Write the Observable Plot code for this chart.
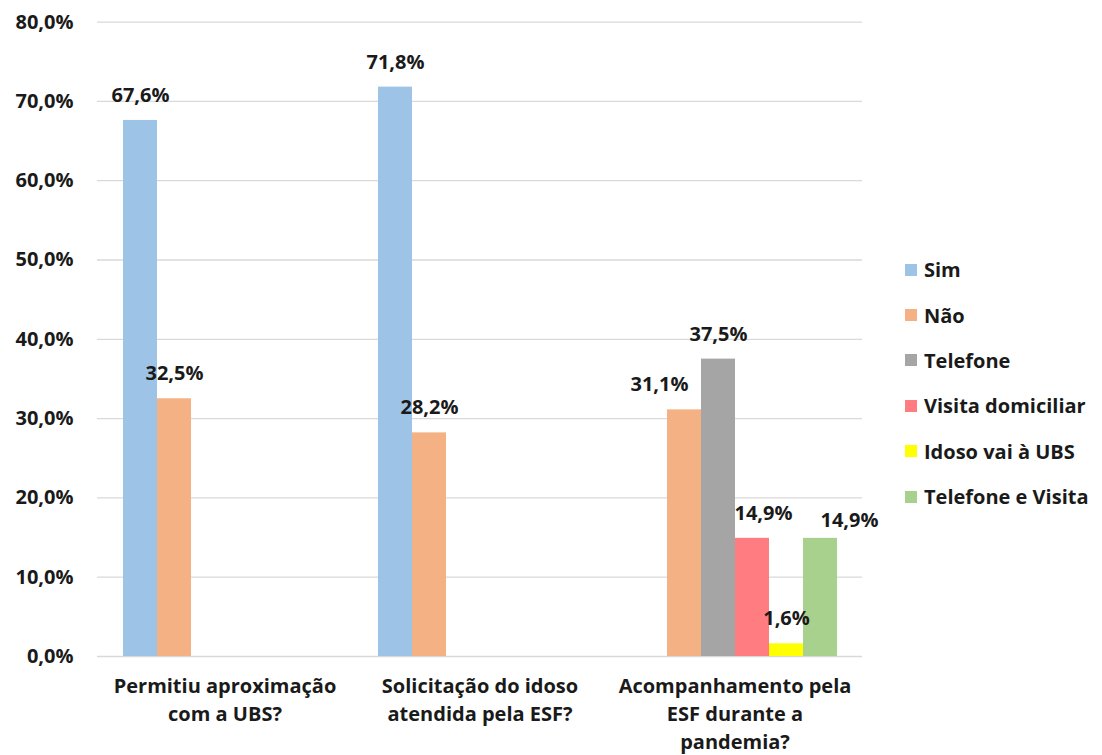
<!DOCTYPE html>
<html>
<head>
<meta charset="utf-8">
<script src="https://cdn.jsdelivr.net/npm/d3@7"></script>
<script src="https://cdn.jsdelivr.net/npm/@observablehq/plot@0.6"></script>
<style>
  html, body { margin: 0; padding: 0; background: #fff; }
  #wrap { position: relative; width: 1102px; height: 755px; font-family: "Open Sans", sans-serif; overflow: hidden; }
  #wrap svg text { font-weight: 700; fill: #1a1a1a; }
  #legend { position: absolute; left: 905px; top: 247px; font: 700 20px "Open Sans", sans-serif; color: #1a1a1a; }
  .item { display: flex; align-items: center; height: 45.4px; white-space: nowrap; }
  .sw { width: 12px; height: 12px; margin-right: 7px; flex: none; }
</style>
</head>
<body>
<div id="wrap"></div>
<script>
// ---- data ----
const groups = [
  "Permitiu aproximação\ncom a UBS?",
  "Solicitação do idoso\natendida pela ESF?",
  "Acompanhamento pela\nESF durante a\npandemia?"
];
const series = ["Sim", "Não", "Telefone", "Visita domiciliar", "Idoso vai à UBS", "Telefone e Visita"];
const seriesColors = ["#9dc3e6", "#f4b183", "#a5a5a5", "#ff7c80", "#ffff00", "#a9d18e"];
const permitiuValues = [67.6, 32.5, null, null, null, null];
const solicitacaoValues = [71.8, 28.2, null, null, null, null];
const acompanhamentoValues = [null, 31.1, 37.5, 14.9, 1.6, 14.9];
const yTicks = [0, 10, 20, 30, 40, 50, 60, 70, 80];

// ---- build rows ----
const valueSets = [permitiuValues, solicitacaoValues, acompanhamentoValues];
const rows = [];
valueSets.forEach((vals, gi) => vals.forEach((v, si) => {
  if (v != null) rows.push({group: groups[gi], series: series[si], value: v, gi, si});
}));

// label nudges (Excel moved a few labels to avoid overlap)
const nudge = (d) => {
  if (d.gi === 2 && d.si === 1) return [-25, 0];
  if (d.gi === 2 && d.si === 3) return [11, 0];
  if (d.gi === 2 && d.si === 5) return [29, 7];
  return [0, 0];
};
const fmt = v => v.toFixed(1).replace(".", ",") + "%";

const labelMarks = rows.map(d => {
  const [dx, dy] = nudge(d);
  return Plot.text([d], {fx: "group", x: "series", y: "value", text: d => fmt(d.value), dx, dy: dy - 25, fontSize: 20, lineAnchor: "middle"});
});

const chart = Plot.plot({
  width: 1102,
  height: 755,
  marginLeft: 97,
  marginRight: 240,
  marginTop: 21.6,
  marginBottom: 99,
  style: {fontFamily: "'Open Sans', sans-serif", fontSize: "20px", background: "#fff", overflow: "visible"},
  fx: {domain: groups, padding: 0, label: null},
  x: {domain: series, paddingInner: 0, paddingOuter: 0.75, axis: null},
  y: {domain: [0, 80], label: null},
  color: {domain: series, range: seriesColors},
  marks: [
    Plot.ruleY(yTicks, {stroke: "#d9d9d9", strokeWidth: 1.3}),
    Plot.barY(rows, {fx: "group", x: "series", y: "value", fill: "series", inset: 0}),
    ...labelMarks,
    Plot.axisY(yTicks, {tickSize: 0, tickPadding: 24, tickFormat: fmt, fontSize: 20, label: null}),
    Plot.axisFx({anchor: "bottom", tickSize: 0, tickPadding: 17, fontSize: 20, lineHeight: 1.4, label: null})
  ]
});
document.getElementById("wrap").appendChild(chart);

// ---- legend ----
const legend = document.createElement("div");
legend.id = "legend";
series.forEach((s, i) => {
  const it = document.createElement("div");
  it.className = "item";
  const sw = document.createElement("span");
  sw.className = "sw";
  sw.style.background = seriesColors[i];
  const t = document.createElement("span");
  t.textContent = s;
  it.appendChild(sw); it.appendChild(t);
  legend.appendChild(it);
});
document.getElementById("wrap").appendChild(legend);
</script>
</body>
</html>
